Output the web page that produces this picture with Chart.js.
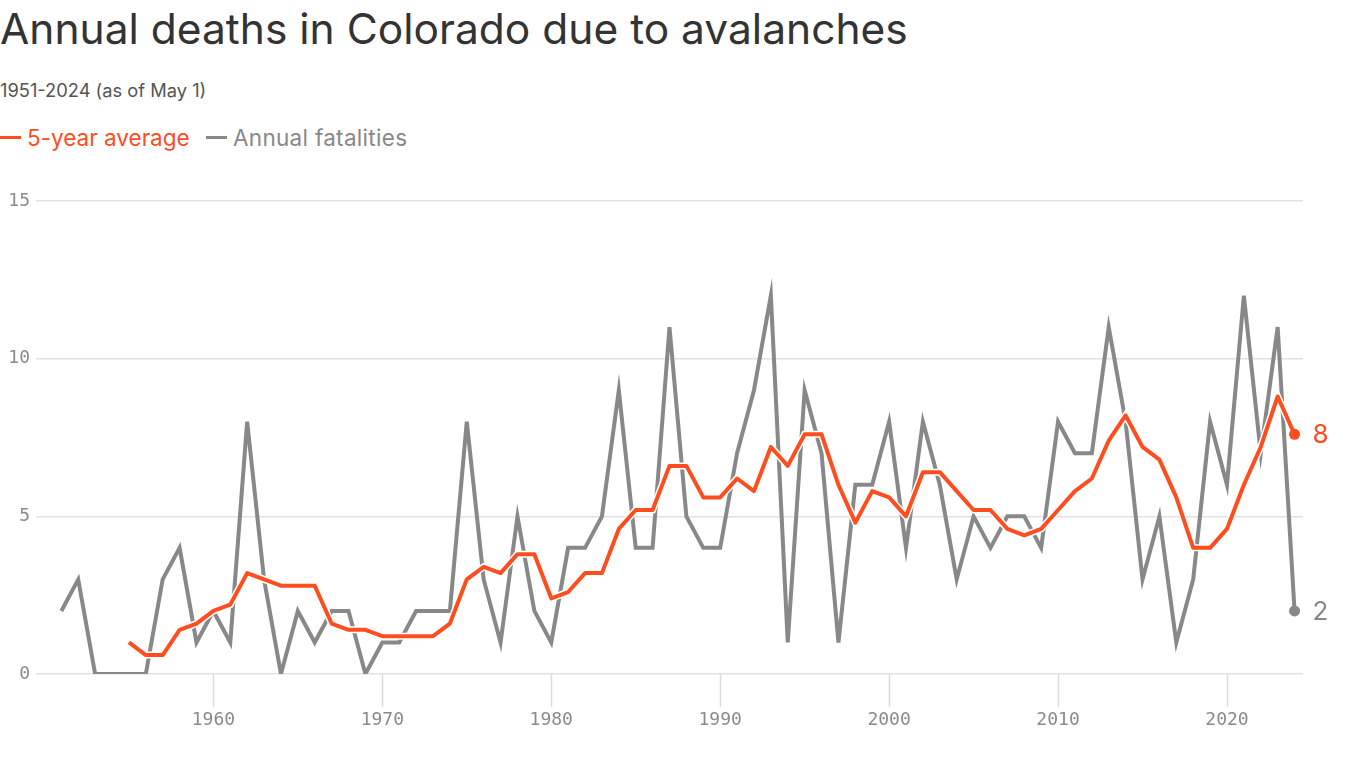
<!DOCTYPE html>
<html>
<head>
<meta charset="utf-8">
<script src="https://cdn.jsdelivr.net/npm/chart.js@4.4.1/dist/chart.umd.min.js"></script>
<style>
  html, body { margin: 0; padding: 0; background: #fff; }
  body { width: 1366px; height: 768px; position: relative; overflow: hidden; font-family: "Inter", "Noto Sans", sans-serif; }
  #titulo { position: absolute; left: 0; top: 3px; font-size: 42.5px; color: #333; white-space: nowrap; }
  #subtitulo { position: absolute; left: 0; top: 79px; font-size: 18.3px; color: #555; }
  #leyenda { position: absolute; left: 0; top: 122px; font-size: 22.5px; white-space: nowrap; }
  #leyenda span { display: inline-block; vertical-align: middle; }
  .raya { width: 21px; height: 3px; margin-right: 6px; }
  #grafico { position: absolute; left: 0; top: 0; }
</style>
</head>
<body>
<div id="titulo">Annual deaths in Colorado due to avalanches</div>
<div id="subtitulo">1951-2024 (as of May 1)</div>
<div id="leyenda">
  <span class="raya" style="background:#ff4d1f"></span><span style="color:#ff4d1f">5-year average</span>
  <span class="raya" style="background:#888;margin-left:10px"></span><span style="color:#888;letter-spacing:0.3px">Annual fatalities</span>
</div>
<canvas id="grafico" width="1366" height="768"></canvas>
<script>
const anios = [];
for (let a = 1951; a <= 2024; a++) anios.push(a);

// Muertes anuales 1951-2024
const muertes = [
  2, 3, 0, 0, 0, 0, 3, 4, 1, 2,
  1, 8, 3, 0, 2, 1, 2, 2, 0, 1,
  1, 2, 2, 2, 8, 3, 1, 5, 2, 1,
  4, 4, 5, 9, 4, 4, 11, 5, 4, 4,
  7, 9, 12, 1, 9, 7, 1, 6, 6, 8,
  4, 8, 6, 3, 5, 4, 5, 5, 4, 8,
  7, 7, 11, 8, 3, 5, 1, 3, 8, 6,
  12, 7, 11, 2
];

// Media de 5 años (empieza en 1955)
const media = [
  null, null, null, null, 1.0, 0.6, 0.6, 1.4, 1.6, 2.0,
  2.2, 3.2, 3.0, 2.8, 2.8, 2.8, 1.6, 1.4, 1.4, 1.2,
  1.2, 1.2, 1.2, 1.6, 3.0, 3.4, 3.2, 3.8, 3.8, 2.4,
  2.6, 3.2, 3.2, 4.6, 5.2, 5.2, 6.6, 6.6, 5.6, 5.6,
  6.2, 5.8, 7.2, 6.6, 7.6, 7.6, 6.0, 4.8, 5.8, 5.6,
  5.0, 6.4, 6.4, 5.8, 5.2, 5.2, 4.6, 4.4, 4.6, 5.2,
  5.8, 6.2, 7.4, 8.2, 7.2, 6.8, 5.6, 4.0, 4.0, 4.6,
  6.0, 7.2, 8.8, 7.6
];

const ticksX = [1960, 1970, 1980, 1990, 2000, 2010, 2020];
const ticksY = [0, 5, 10, 15];

const naranja = '#ff4d1f';
const gris = '#888888';
const ultimo = anios.length - 1;

function puntos(valores) {
  return anios.map((a, i) => ({ x: a, y: valores[i] }));
}

// rayitas bajo el eje x y etiquetas al final de cada serie
const extras = {
  id: 'extras',
  beforeDatasetsDraw(chart) {
    const ctx = chart.ctx;
    const sx = chart.scales.x;
    const abajo = chart.chartArea.bottom;
    ctx.save();
    ctx.strokeStyle = '#dcdcdc';
    ctx.lineWidth = 1.5;
    ticksX.forEach(v => {
      const x = Math.round(sx.getPixelForValue(v)) + 0.5;
      ctx.beginPath();
      ctx.moveTo(x, abajo);
      ctx.lineTo(x, abajo + 33);
      ctx.stroke();
    });
    ctx.restore();
  },
  afterDatasetsDraw(chart) {
    const ctx = chart.ctx;
    ctx.save();
    ctx.font = '26px Inter, "Noto Sans", sans-serif';
    ctx.textBaseline = 'middle';
    ctx.textAlign = 'left';
    [0, 2].forEach(idx => {
      const ds = chart.data.datasets[idx];
      const p = chart.getDatasetMeta(idx).data[ultimo];
      ctx.fillStyle = ds.borderColor;
      ctx.fillText(Math.round(ds.data[ultimo].y), p.x + 18, p.y + 1);
    });
    ctx.restore();
  }
};

const radioFinal = c => (c.dataIndex === ultimo ? 5.5 : 0);
const fuenteEje = { family: '"DejaVu Sans Mono", monospace', size: 18 };

new Chart(document.getElementById('grafico'), {
  type: 'line',
  data: {
    datasets: [
      {
        label: '5-year average',
        data: puntos(media),
        borderColor: naranja,
        backgroundColor: naranja,
        borderWidth: 4,
        pointRadius: radioFinal,
        pointBorderWidth: 0,
        borderJoinStyle: 'round',
        tension: 0
      },
      {
        label: 'halo',
        data: puntos(media),
        borderColor: '#ffffff',
        borderWidth: 7,
        pointRadius: 0,
        tension: 0
      },
      {
        label: 'Annual fatalities',
        data: puntos(muertes),
        borderColor: gris,
        backgroundColor: gris,
        borderWidth: 4,
        pointRadius: radioFinal,
        pointBorderWidth: 0,
        borderJoinStyle: 'miter',
        tension: 0
      }
    ]
  },
  options: {
    responsive: false,
    animation: false,
    layout: { padding: { top: 201, right: 63, left: 0, bottom: 0 } },
    plugins: {
      legend: { display: false },
      title: { display: false },
      tooltip: { enabled: false }
    },
    scales: {
      x: {
        type: 'linear',
        min: 1949.5,
        max: 2024.5,
        afterBuildTicks: s => { s.ticks = ticksX.map(v => ({ value: v })); },
        afterFit: s => { s.height = 94; },
        border: { display: false },
        grid: {
          drawOnChartArea: false,
          drawTicks: true,
          tickLength: 33,
          tickColor: 'rgba(0,0,0,0)'
        },
        ticks: {
          padding: 3,
          color: '#8a8a8a',
          font: fuenteEje,
          callback: v => String(v),
          maxRotation: 0
        }
      },
      y: {
        min: 0,
        max: 15,
        afterBuildTicks: s => { s.ticks = ticksY.map(v => ({ value: v })); },
        afterFit: s => { s.width = 36; },
        border: { display: false },
        grid: { color: '#e2e2e2', lineWidth: 1.5, drawTicks: false },
        ticks: {
          padding: 6,
          color: '#8a8a8a',
          font: fuenteEje
        }
      }
    }
  },
  plugins: [extras]
});
</script>
</body>
</html>
